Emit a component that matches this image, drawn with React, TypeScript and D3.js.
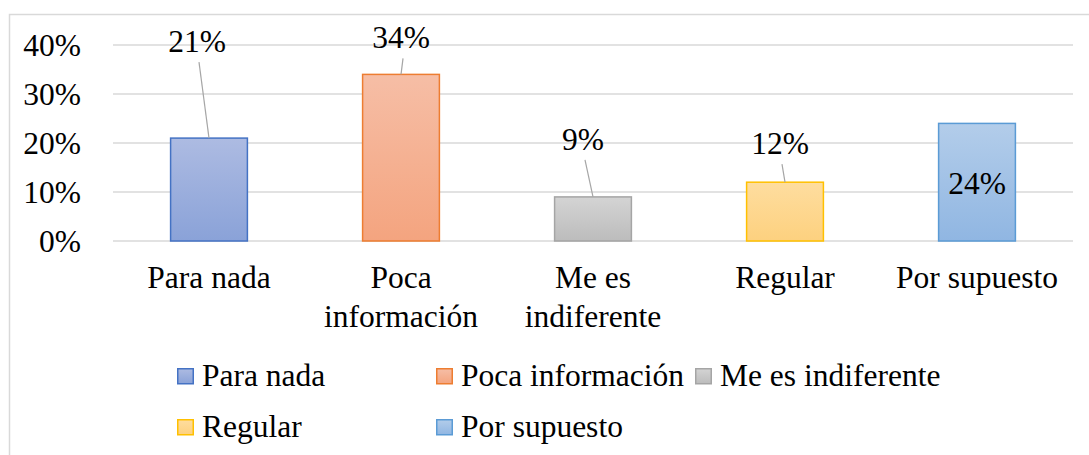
import React from 'react';
import * as d3 from 'd3';

const categories = ['Para nada', 'Poca información', 'Me es indiferente', 'Regular', 'Por supuesto'];
const axisLabels = [['Para nada'], ['Poca', 'información'], ['Me es', 'indiferente'], ['Regular'], ['Por supuesto']];
const values = [0.21, 0.34, 0.09, 0.12, 0.24];
const yTicks = [0, 0.1, 0.2, 0.3, 0.4];

// colours: [gradient top, gradient bottom, stroke]
const palette = [
  ['#adbbe2', '#8aa2d8', '#4472c4'],
  ['#f6bea6', '#f4a47f', '#ed7d31'],
  ['#d4d4d4', '#bcbcbc', '#a5a5a5'],
  ['#fedd9f', '#fdd17f', '#ffc000'],
  ['#b3cdea', '#90b6e2', '#5b9bd5'],
];

// hand-placed data labels, offset from bar top centre (dx, baseline dy, leader?)
const labelPos = [
  { dx: -12, dy: -86, leader: true },
  { dx: 0, dy: -26, leader: true },
  { dx: -10, dy: -47, leader: true },
  { dx: -5, dy: -28, leader: true },
  { dx: 0, dy: 71, leader: false },
];

const legendPos = [
  { x: 177, y: 376 },
  { x: 436, y: 376 },
  { x: 695, y: 376 },
  { x: 177, y: 427 },
  { x: 436, y: 427 },
];

const W = 1089;
const H = 455;
const FONT = 'Liberation Serif';
const FS = 31.5;

export default function App() {
  const x = d3.scaleBand<string>().domain(categories).range([113, 1073]).paddingInner(0.6).paddingOuter(0.3);
  const y = d3.scaleLinear().domain([0, 0.4]).range([241, 45]);
  const fmt = d3.format('.0%');
  const txt = { fontFamily: FONT, fontSize: FS };

  return (
    <svg width={W} height={H} style={{ position: 'absolute', left: 0, top: 0, background: '#fff' }}>
      <defs>
        {palette.map((p, i) => (
          <linearGradient key={i} id={`g${i}`} x1="0" y1="0" x2="0" y2="1">
            <stop offset="0" stopColor={p[0]} />
            <stop offset="1" stopColor={p[1]} />
          </linearGradient>
        ))}
      </defs>
      <rect x={9.5} y={14.5} width={W + 10} height={H + 10} fill="#fff" stroke="#d9d9d9" strokeWidth={1.5} />

      {yTicks.map(t => (
        <g key={t}>
          <line x1={113} x2={1073} y1={y(t)} y2={y(t)} stroke="#d9d9d9" strokeWidth={1.5} />
          <text x={81} y={y(t)} dy="0.34em" textAnchor="end" style={txt}>
            {fmt(t)}
          </text>
        </g>
      ))}

      {categories.map((c, i) => {
        const bx = x(c)!;
        const cx = bx + x.bandwidth() / 2;
        const top = y(values[i]);
        const lp = labelPos[i];
        return (
          <g key={c}>
            <rect x={bx} y={top} width={x.bandwidth()} height={y(0) - top}
              fill={`url(#g${i})`} stroke={palette[i][2]} strokeWidth={1.5} />
            {lp.leader && (
              <line x1={cx + lp.dx + 2} y1={top + lp.dy + 10} x2={cx} y2={top} stroke="#a6a6a6" strokeWidth={1.2} />
            )}
            <text x={cx + lp.dx} y={top + lp.dy} textAnchor="middle" style={txt}>
              {fmt(values[i])}
            </text>
            {axisLabels[i].map((ln, j) => (
              <text key={j} x={cx} y={288 + j * 39} textAnchor="middle" style={txt}>
                {ln}
              </text>
            ))}
          </g>
        );
      })}

      {categories.map((c, i) => (
        <g key={c} transform={`translate(${legendPos[i].x},${legendPos[i].y})`}>
          <rect x={0.75} y={-7.25} width={15.5} height={15} fill={`url(#g${i})`} stroke={palette[i][2]} strokeWidth={1.5} />
          <text x={25} y={0} dy="0.33em" style={txt}>{c}</text>
        </g>
      ))}
    </svg>
  );
}
